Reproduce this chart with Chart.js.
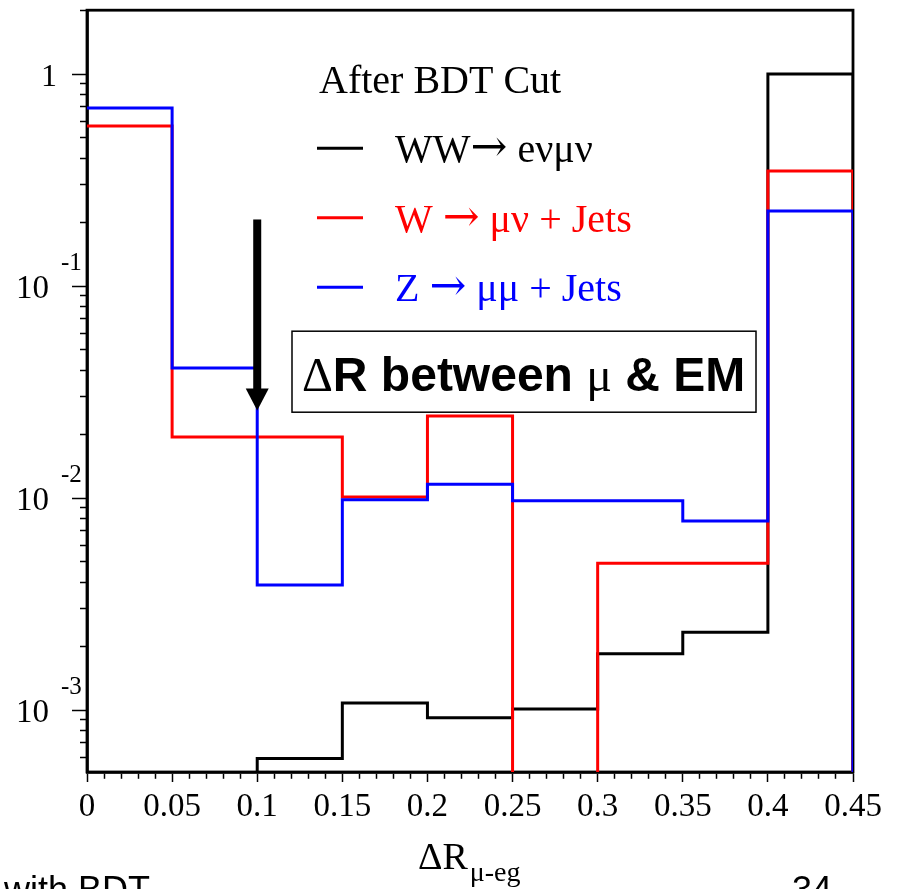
<!DOCTYPE html>
<html lang="en">
<head>
<meta charset="UTF-8">
<title>ΔR between μ & EM</title>
<script src="https://cdn.jsdelivr.net/npm/chart.js"></script>
<style>
  html, body { margin: 0; padding: 0; background: #fff; overflow: hidden; }
  canvas { display: block; }
</style>
</head>
<body>
<canvas id="drChart" width="897" height="889"></canvas>
<script>
// histogram bin edges (Delta R between muon and EM cluster)
const binEdges = [0, 0.05, 0.1, 0.15, 0.2, 0.25, 0.3, 0.35, 0.4, 0.45];
const xTickLabels = ['0', '0.05', '0.1', '0.15', '0.2', '0.25', '0.3', '0.35', '0.4', '0.45'];

// normalised bin contents, 0 = empty bin
const wwValues   = [0, 0, 0.00059, 0.00108, 0.00092, 0.00101, 0.00184, 0.00233, 1.0];
const wJetValues = [0.569, 0.0194, 0.0194, 0.0101, 0.0244, 0, 0.00493, 0.00493, 0.349];
const zJetValues = [0.691, 0.041, 0.00389, 0.0098, 0.0116, 0.0097, 0.0097, 0.0078, 0.226];

const seriesNames  = ['WW\u2192 e\u03bd\u03bc\u03bd', 'W \u2192 \u03bc\u03bd + Jets', 'Z \u2192 \u03bc\u03bc + Jets'];
const seriesColors = ['#000000', '#ff0000', '#0000ff'];

const yMin = 5.1e-4;
const yMax = 2.0;
const EMPTY = yMin / 100;   // empty bins drop below the axis

const serif = "'Liberation Serif', 'Times New Roman', serif";
const sans = "'Liberation Sans', Arial, sans-serif";
const arrowFont = "'DejaVu Serif', serif";

function histPoints(values) {
    const v = values.map(c => c > 0 ? c : EMPTY);
    const pts = [];
    v.forEach((c, i) => pts.push({ x: binEdges[i], y: c }));
    const last = binEdges[binEdges.length - 1];
    pts.push({ x: last, y: v[v.length - 1] });
    pts.push({ x: last, y: EMPTY });
    return pts;
}

function isEdge(v) {
    return binEdges.findIndex(e => Math.abs(e - v) < 1e-6);
}

// minor ticks every 0.01 on x, 1..9 x 10^n on y
const xTicks = [];
for (let i = 0; i <= 45; i++) xTicks.push(i / 100);
const yTicks = [];
for (let e = -4; e <= 0; e++) {
    for (let m = 1; m <= 9; m++) {
        const v = m * Math.pow(10, e);
        if (v >= yMin && v <= yMax * 1.0001) yTicks.push(v);
    }
}
function isDecade(v) {
    const l = Math.log10(v);
    return Math.abs(l - Math.round(l)) < 1e-6;
}

// frame around the plot area, drawn under the histograms
const framePlugin = {
    id: 'frame',
    beforeDatasetsDraw(chart) {
        const { ctx, chartArea: a } = chart;
        ctx.save();
        ctx.strokeStyle = '#000';
        ctx.lineWidth = 2.8;
        ctx.strokeRect(a.left, a.top, a.right - a.left, a.bottom - a.top);
        ctx.restore();
    }
};

// y labels as 10 with a raised exponent
const yLabelPlugin = {
    id: 'yLabels',
    afterDraw(chart) {
        const { ctx, chartArea: a } = chart;
        const y = chart.scales.y;
        ctx.save();
        ctx.fillStyle = '#000';
        ctx.textBaseline = 'alphabetic';
        y.ticks.forEach(t => {
            if (!isDecade(t.value)) return;
            const py = y.getPixelForValue(t.value);
            const exp = Math.round(Math.log10(t.value));
            if (exp === 0) {
                ctx.font = '32px ' + serif;
                ctx.textAlign = 'right';
                ctx.fillText('1', a.left - 30, py + 12);
            } else {
                ctx.font = '33px ' + serif;
                ctx.textAlign = 'right';
                ctx.fillText('10', a.left - 38, py + 12);
                ctx.font = '25px ' + serif;
                ctx.textAlign = 'left';
                ctx.fillText(String(exp), a.left - 26, py - 16);
            }
        });
        ctx.restore();
    }
};

// text with the arrow glyph drawn in a font that has a full-size arrow
function drawMixed(ctx, text, x, y, size) {
    const pieces = text.split('\u2192');
    let tx = x;
    pieces.forEach((p, i) => {
        if (i > 0) {
            ctx.font = (size + 4) + 'px ' + arrowFont;
            ctx.fillText('\u2192', tx, y - 1);
            tx += ctx.measureText('\u2192').width;
        }
        ctx.font = size + 'px ' + serif;
        ctx.fillText(p, tx, y);
        tx += ctx.measureText(p).width;
    });
}

// legend, annotation box, arrow and axis title
const annotPlugin = {
    id: 'annot',
    afterDatasetsDraw(chart) {
        const { ctx, chartArea: a } = chart;
        const xs = chart.scales.x, ys = chart.scales.y;
        ctx.save();

        // legend
        ctx.textBaseline = 'alphabetic';
        ctx.textAlign = 'left';
        ctx.font = '40px ' + serif;
        ctx.fillStyle = '#000';
        ctx.fillText('After BDT Cut', a.left + 232, a.top + 83);
        chart.data.datasets
            .slice()
            .sort((p, q) => p.legendIndex - q.legendIndex)
            .forEach((ds, i) => {
                const ly = a.top + 138 + i * 69.5;
                ctx.strokeStyle = ds.borderColor;
                ctx.lineWidth = 3;
                ctx.beginPath();
                ctx.moveTo(a.left + 230, ly);
                ctx.lineTo(a.left + 276, ly);
                ctx.stroke();
                ctx.fillStyle = ds.borderColor;
                drawMixed(ctx, ds.label, a.left + 308, ly + 14, 40);
            });

        // arrow at Delta R = 0.1
        const ax = xs.getPixelForValue(0.1);
        const ay1 = ys.getPixelForValue(0.206);
        const ay2 = ys.getPixelForValue(0.0259);
        ctx.fillStyle = '#000';
        ctx.fillRect(ax - 4, ay1, 8, ay2 - ay1 - 20);
        ctx.beginPath();
        ctx.moveTo(ax - 11.5, ay2 - 22);
        ctx.lineTo(ax + 11.5, ay2 - 22);
        ctx.lineTo(ax, ay2);
        ctx.closePath();
        ctx.fill();

        // boxed caption
        const bx = a.left + 205, by = a.top + 321, bw = 464, bh = 81;
        ctx.fillStyle = '#fff';
        ctx.fillRect(bx, by, bw, bh);
        ctx.strokeStyle = '#000';
        ctx.lineWidth = 1.5;
        ctx.strokeRect(bx, by, bw, bh);
        const parts = [
            ['\u0394', '48px ' + serif],
            ['R between ', 'bold 48px ' + sans],
            ['\u03bc', '48px ' + serif],
            [' & EM', 'bold 48px ' + sans]
        ];
        let tx = bx + 10;
        ctx.fillStyle = '#000';
        parts.forEach(([s, f]) => {
            ctx.font = f;
            ctx.fillText(s, tx, by + 60);
            tx += ctx.measureText(s).width;
        });

        ctx.restore();
    },
    afterDraw(chart) {
        const { ctx } = chart;
        ctx.save();
        ctx.fillStyle = '#000';
        ctx.textAlign = 'left';
        ctx.textBaseline = 'alphabetic';
        // x axis title: Delta R with subscript
        ctx.font = '38px ' + serif;
        ctx.fillText('\u0394R', 418, 869);
        const w = ctx.measureText('\u0394R').width;
        ctx.font = '28px ' + serif;
        ctx.fillText('\u03bc-eg', 420 + w, 881);
        // slide footer, cut by the picture edge
        ctx.font = '36px ' + sans;
        ctx.fillText('with BDT', 4, 902);
        ctx.fillText('34', 792, 902);
        ctx.restore();
    }
};

const datasets = [wwValues, wJetValues, zJetValues].map((vals, i) => ({
    label: seriesNames[i],
    legendIndex: i,
    data: histPoints(vals),
    borderColor: seriesColors[i],
    backgroundColor: seriesColors[i],
    borderWidth: 3,
    stepped: 'before',
    pointRadius: 0,
    fill: false,
    order: 2 - i   // blue on top, then red, then black
}));

new Chart(document.getElementById('drChart'), {
    type: 'line',
    data: { datasets },
    plugins: [framePlugin, annotPlugin, yLabelPlugin],
    options: {
        responsive: false,
        animation: false,
        devicePixelRatio: 1,
        events: [],
        layout: { padding: { left: 0, top: 10, right: 44, bottom: 0 } },
        plugins: {
            legend: { display: false },
            tooltip: { enabled: false }
        },
        scales: {
            x: {
                type: 'linear',
                min: 0,
                max: 0.45,
                afterBuildTicks: s => { s.ticks = xTicks.map(v => ({ value: v })); },
                afterFit: s => { s.height = 117; },
                border: { color: '#000', width: 2.8 },
                grid: {
                    drawOnChartArea: false,
                    tickLength: 10,
                    tickWidth: 1.5,
                    tickColor: '#000',
                    tickBorderDash: c => (c.tick && isEdge(c.tick.value) >= 0) ? [] : [5, 50]
                },
                ticks: {
                    autoSkip: false,
                    maxRotation: 0,
                    padding: 6,
                    color: '#000',
                    font: { family: serif, size: 33 },
                    callback: v => {
                        const k = isEdge(v);
                        return k >= 0 ? xTickLabels[k] : '';
                    }
                }
            },
            y: {
                type: 'logarithmic',
                min: yMin,
                max: yMax,
                afterBuildTicks: s => { s.ticks = yTicks.map(v => ({ value: v })); },
                afterFit: s => { s.width = 87; },
                border: { color: '#000', width: 2.8 },
                grid: {
                    drawOnChartArea: false,
                    tickLength: 15,
                    tickWidth: 1.5,
                    tickColor: '#000',
                    tickBorderDash: c => (c.tick && isDecade(c.tick.value)) ? [] : [0, 8, 30]
                },
                ticks: {
                    autoSkip: false,
                    callback: () => ''
                }
            }
        }
    }
});
</script>
</body>
</html>
